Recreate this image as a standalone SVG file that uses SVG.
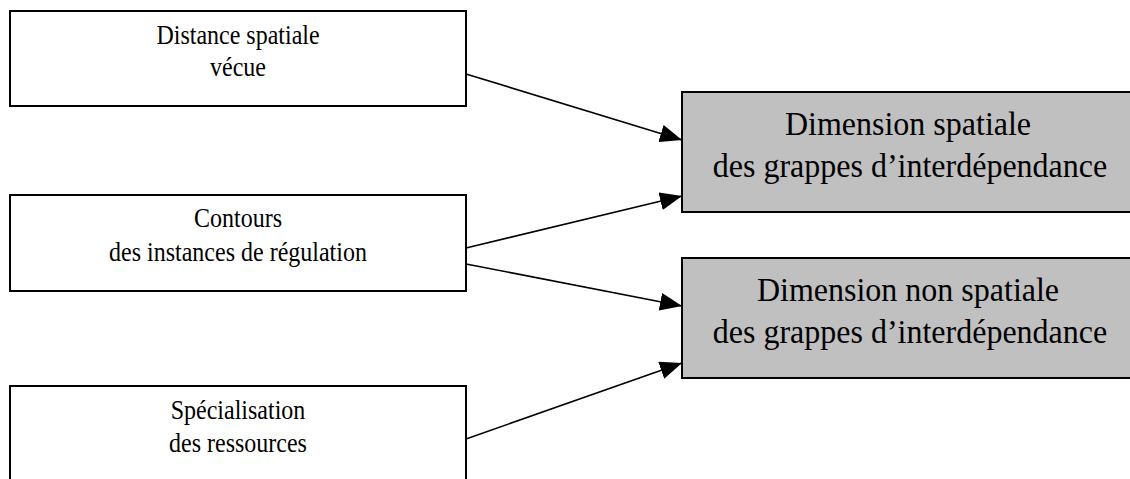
<svg xmlns="http://www.w3.org/2000/svg" width="1130" height="479" viewBox="0 0 1130 479">
<style>
.box{fill:#ffffff;stroke:#000000;stroke-width:2}
.gbox{fill:#c0c0c0;stroke:#000000;stroke-width:2}
.t{font-family:"Liberation Serif","Times New Roman",serif;font-size:24px;fill:#000000;text-anchor:middle}
.tb{font-family:"Liberation Serif","Times New Roman",serif;font-size:32px;fill:#000000;text-anchor:middle}
.c{stroke:#000000;stroke-width:1.6;fill:none}
</style>
<defs>
<marker id="ah" markerUnits="userSpaceOnUse" markerWidth="22" markerHeight="18" viewBox="0 0 22 18" refX="22" refY="9" orient="auto">
<path d="M0,0 L22,9 L0,18 Z" fill="#000000"/>
</marker>
</defs>
<rect width="1130" height="479" fill="#ffffff"/>
<g id="connectors">
<line class="c" x1="466" y1="74" x2="682" y2="140" marker-end="url(#ah)"/>
<line class="c" x1="466" y1="248" x2="682" y2="196" marker-end="url(#ah)"/>
<line class="c" x1="466" y1="264" x2="682" y2="306" marker-end="url(#ah)"/>
<line class="c" x1="466" y1="439" x2="682" y2="363" marker-end="url(#ah)"/>
</g>
<g id="n1">
<rect class="box" x="10" y="11" width="456" height="95"/>
<text class="t" transform="translate(238,44) scale(1,1.15)">Distance spatiale</text>
<text class="t" transform="translate(238,76) scale(1,1.15)">vécue</text>
</g>
<g id="n2">
<rect class="box" x="10" y="195" width="456" height="96"/>
<text class="t" transform="translate(238,227) scale(1,1.15)">Contours</text>
<text class="t" transform="translate(238,261) scale(1,1.15)">des instances de régulation</text>
</g>
<g id="n3">
<rect class="box" x="10" y="386" width="456" height="110"/>
<text class="t" transform="translate(238,419) scale(1,1.15)">Spécialisation</text>
<text class="t" transform="translate(238,452) scale(1,1.15)">des ressources</text>
</g>
<g id="n4">
<rect class="gbox" x="682" y="92" width="460" height="120"/>
<text class="tb" transform="translate(908,135) scale(1,1.06)">Dimension spatiale</text>
<text class="tb" transform="translate(910,177) scale(1,1.06)">des grappes d’interdépendance</text>
</g>
<g id="n5">
<rect class="gbox" x="682" y="258" width="460" height="120"/>
<text class="tb" transform="translate(908,301) scale(1,1.06)">Dimension non spatiale</text>
<text class="tb" transform="translate(910,343) scale(1,1.06)">des grappes d’interdépendance</text>
</g>
</svg>
